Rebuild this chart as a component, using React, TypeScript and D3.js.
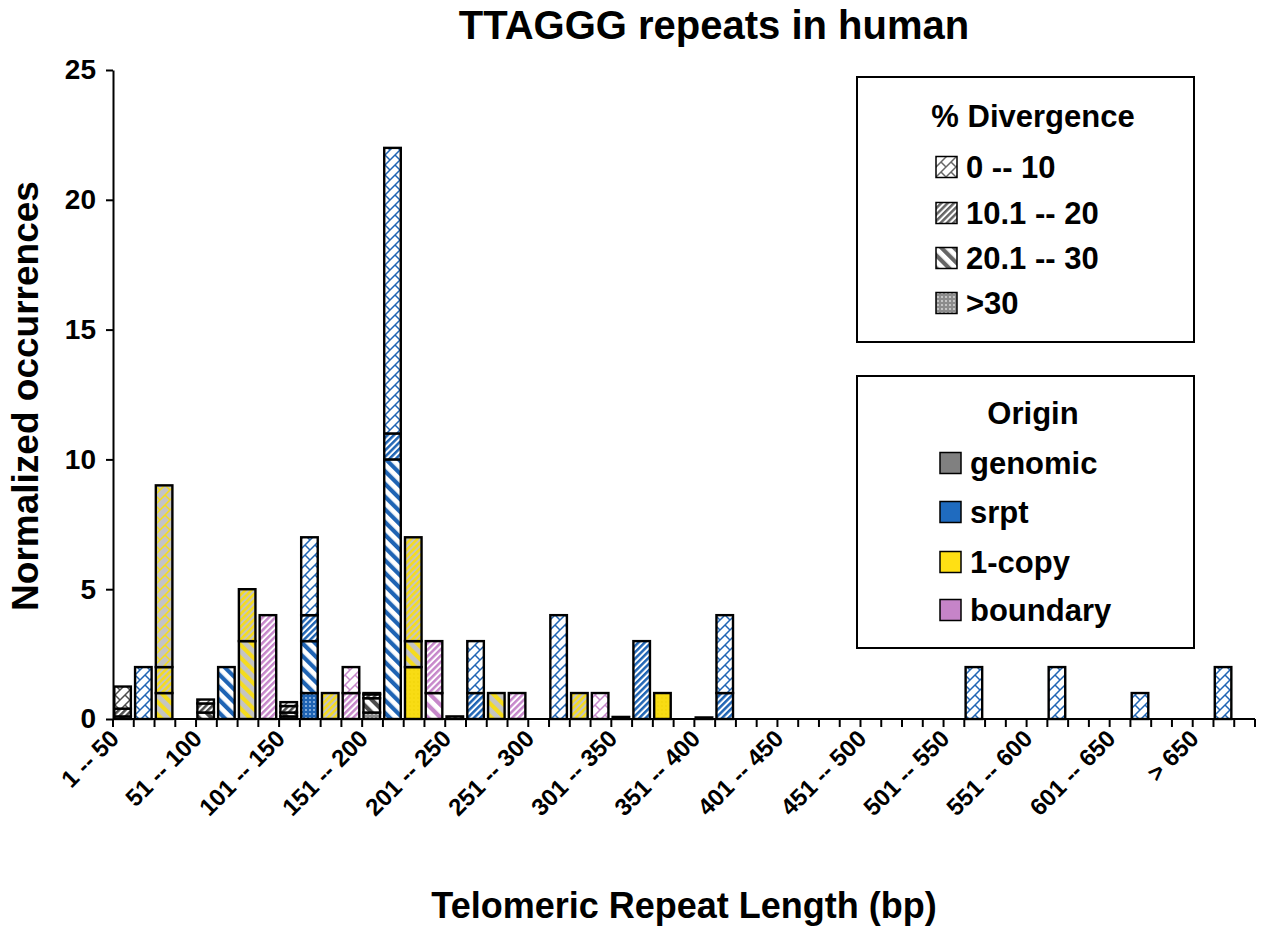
import { useEffect, useRef } from 'react'
import { axisLeft, scaleBand, scaleLinear, select, stack } from 'd3'

const BINS = [
  '1 -- 50', '51 -- 100', '101 -- 150', '151 -- 200', '201 -- 250', '251 -- 300', '301 -- 350',
  '351 -- 400', '401 -- 450', '451 -- 500', '501 -- 550', '551 -- 600', '601 -- 650', '> 650',
]
const ORIGINS = ['genomic', 'srpt', '1-copy', 'boundary']
const DIVERGENCE = ['0 -- 10', '10.1 -- 20', '20.1 -- 30', '>30']
const Y_TICKS = [0, 5, 10, 15, 20, 25]

// normalized occurrences, one row per length bin, columns follow DIVERGENCE
const genomic = [
  [0.85, 0.3, 0.1, 0],
  [0.15, 0.35, 0.25, 0],
  [0.15, 0.25, 0.15, 0.1],
  [0.05, 0.15, 0.55, 0.25],
  [0, 0.1, 0, 0],
  [0, 0, 0, 0],
  [0, 0.08, 0, 0],
  [0, 0.06, 0, 0],
  [0, 0, 0, 0],
  [0, 0, 0, 0],
  [0, 0, 0, 0],
  [0, 0, 0, 0],
  [0, 0, 0, 0],
  [0, 0, 0, 0],
]
const srpt = [
  [2, 0, 0, 0],
  [0, 0, 2, 0],
  [3, 1, 2, 1],
  [11, 1, 10, 0],
  [2, 1, 0, 0],
  [4, 0, 0, 0],
  [0, 3, 0, 0],
  [3, 1, 0, 0],
  [0, 0, 0, 0],
  [0, 0, 0, 0],
  [2, 0, 0, 0],
  [2, 0, 0, 0],
  [1, 0, 0, 0],
  [2, 0, 0, 0],
]
const oneCopy = [
  [7, 1, 1, 0],
  [0, 2, 3, 0],
  [0, 1, 0, 0],
  [0, 4, 1, 2],
  [0, 0, 1, 0],
  [0, 1, 0, 0],
  [0, 0, 0, 1],
  [0, 0, 0, 0],
  [0, 0, 0, 0],
  [0, 0, 0, 0],
  [0, 0, 0, 0],
  [0, 0, 0, 0],
  [0, 0, 0, 0],
  [0, 0, 0, 0],
]
const boundary = [
  [0, 0, 0, 0],
  [0, 4, 0, 0],
  [1, 1, 0, 0],
  [0, 2, 1, 0],
  [0, 1, 0, 0],
  [1, 0, 0, 0],
  [0, 0, 0, 0],
  [0, 0, 0, 0],
  [0, 0, 0, 0],
  [0, 0, 0, 0],
  [0, 0, 0, 0],
  [0, 0, 0, 0],
  [0, 0, 0, 0],
  [0, 0, 0, 0],
]
const TABLES = [genomic, srpt, oneCopy, boundary]

// colours per origin; index 4 is the neutral set used by the divergence legend
const SOLID = ['#808080', '#1f6bbf', '#ffe014', '#c684c8']
const LINE = ['#4d4d4d', '#1f64b4', '#f5dc1e', '#c687ca', '#666666']
const BACK = ['#ffffff', '#ffffff', '#c4c4c4', '#ffffff', '#ffffff']
const DOT_BACK = ['#8c8c8c', '#1f64b4', '#f8dc14', '#c687ca', '#8c8c8c']
const DOT = ['#d8d8d8', '#a9c9ee', '#f2d60a', '#ecd2ee', '#e0e0e0']

const FONT = "'Liberation Sans', Arial, sans-serif"

type Sel = ReturnType<typeof select<SVGDefsElement, unknown>>

function addPattern(defs: Sel, id: string, kind: number, c: number) {
  const p = defs.append('pattern').attr('id', id).attr('patternUnits', 'userSpaceOnUse')
  if (kind === 0) {
    // diagonal brick
    p.attr('width', 10).attr('height', 10)
    p.append('rect').attr('width', 10).attr('height', 10).attr('fill', BACK[c])
    p.append('path')
      .attr('d', 'M0,10 L10,0 M-1,1 L1,-1 M9,11 L11,9 M5,5 L10,10')
      .attr('stroke', LINE[c])
      .attr('stroke-width', 1.5)
      .attr('fill', 'none')
  } else if (kind === 1) {
    // light upward diagonal
    p.attr('width', 4.5).attr('height', 4.5).attr('patternTransform', 'rotate(45)')
    p.append('rect').attr('width', 4.5).attr('height', 4.5).attr('fill', BACK[c])
    p.append('rect').attr('width', 2.5).attr('height', 4.5).attr('fill', LINE[c])
  } else if (kind === 2) {
    // wide downward diagonal
    p.attr('width', 9).attr('height', 9).attr('patternTransform', 'rotate(-45)')
    p.append('rect').attr('width', 9).attr('height', 9).attr('fill', BACK[c])
    p.append('rect').attr('width', 4.2).attr('height', 9).attr('fill', LINE[c])
  } else {
    // dotted
    p.attr('width', 4).attr('height', 4)
    p.append('rect').attr('width', 4).attr('height', 4).attr('fill', DOT_BACK[c])
    p.append('circle').attr('cx', 2).attr('cy', 2).attr('r', 0.9).attr('fill', DOT[c])
  }
}

export default function App() {
  const ref = useRef<SVGSVGElement>(null)

  useEffect(() => {
    if (!ref.current) return
    const svg = select(ref.current)
    svg.selectAll('*').remove()

    const left = 113
    const right = 1255
    const top = 70
    const bottom = 719

    const defs = svg.append('defs') as unknown as Sel
    for (let c = 0; c < 5; c++) {
      for (let k = 0; k < 4; k++) addPattern(defs, `p-${c}-${k}`, k, c)
    }

    // one column per origin inside each length bin; the last bin has no boundary column
    const slots = BINS.flatMap((_, bi) => ORIGINS.map((_, oi) => ({ key: `${bi}-${oi}`, bi, oi }))).filter(
      (s) => !(s.bi === BINS.length - 1 && s.oi === ORIGINS.length - 1),
    )

    const x = scaleBand()
      .domain(slots.map((s) => s.key))
      .range([left, right])
      .padding(0)
    const bw = x.bandwidth()
    const y = scaleLinear().domain([0, 25]).range([bottom, top])

    const rows = slots.map((s) => {
      const r: Record<string, number | string> = { key: s.key, oi: s.oi }
      DIVERGENCE.forEach((d, i) => (r[d] = TABLES[s.oi][s.bi][i]))
      return r
    })

    // stacked from the most divergent class at the bottom
    const series = stack<Record<string, number | string>>()
      .keys([...DIVERGENCE].reverse())
      .value((d, k) => d[k] as number)(rows)

    const bars = svg.append('g')
    series.forEach((layer) => {
      const di = DIVERGENCE.indexOf(layer.key)
      bars
        .append('g')
        .selectAll('rect')
        .data(layer.filter((d) => d[1] - d[0] > 0))
        .join('rect')
        .attr('x', (d) => (x(d.data.key as string) ?? 0) + 1.3)
        .attr('y', (d) => y(d[1]))
        .attr('width', bw - 4.2)
        .attr('height', (d) => y(d[0]) - y(d[1]))
        .attr('fill', (d) => `url(#p-${d.data.oi}-${di})`)
        .attr('stroke', '#000')
        .attr('stroke-width', 2.4)
    })

    // y axis
    const yAxis = svg
      .append('g')
      .attr('transform', `translate(${left},0)`)
      .call(axisLeft(y).tickValues(Y_TICKS).tickSize(7).tickSizeOuter(0).tickPadding(10))
    yAxis.select('.domain').attr('stroke', '#000').attr('stroke-width', 2)
    yAxis.selectAll('.tick line').attr('stroke', '#000').attr('stroke-width', 2)
    yAxis
      .selectAll('.tick text')
      .attr('font-family', FONT)
      .attr('font-weight', 'bold')
      .attr('font-size', 28)
      .attr('fill', '#000')

    // x axis with a tick at every column boundary
    const xAxis = svg.append('g')
    xAxis
      .append('line')
      .attr('x1', left)
      .attr('x2', right)
      .attr('y1', bottom)
      .attr('y2', bottom)
      .attr('stroke', '#000')
      .attr('stroke-width', 2)
    const edges = [...slots.map((s) => x(s.key) ?? 0), right]
    xAxis
      .selectAll('line.tick')
      .data(edges)
      .join('line')
      .attr('class', 'tick')
      .attr('x1', (d) => d)
      .attr('x2', (d) => d)
      .attr('y1', bottom)
      .attr('y2', bottom + 8)
      .attr('stroke', '#000')
      .attr('stroke-width', 2)
    xAxis
      .selectAll('text')
      .data(BINS)
      .join('text')
      .attr('transform', (_, bi) => `translate(${(x(`${bi}-0`) ?? 0) + bw / 2 - 3},${bottom + 21}) rotate(-45)`)
      .attr('text-anchor', 'end')
      .attr('font-family', FONT)
      .attr('font-weight', 'bold')
      .attr('font-size', 24)
      .text((d) => d)

    const label = (t: string, size: number) =>
      svg
        .append('text')
        .attr('font-family', FONT)
        .attr('font-weight', 'bold')
        .attr('font-size', size)
        .attr('text-anchor', 'middle')
        .text(t)

    label('TTAGGG repeats in human', 40).attr('x', 714).attr('y', 39)
    label('Telomeric Repeat Length (bp)', 36).attr('x', 684).attr('y', 918)
    label('Normalized occurrences', 37).attr('transform', 'translate(38,396) rotate(-90)')

    // legends
    const legend = (y0: number, h: number, title: string, titleY: number, itemX: number, ys: number[], names: string[], fill: (i: number) => string) => {
      const g = svg.append('g')
      g.append('rect')
        .attr('x', 857)
        .attr('y', y0)
        .attr('width', 337)
        .attr('height', h)
        .attr('fill', '#fff')
        .attr('stroke', '#000')
        .attr('stroke-width', 2)
      g.append('text')
        .attr('x', 1033)
        .attr('y', titleY)
        .attr('text-anchor', 'middle')
        .attr('font-family', FONT)
        .attr('font-weight', 'bold')
        .attr('font-size', 31)
        .text(title)
      const items = g
        .selectAll('g.item')
        .data(names)
        .join('g')
        .attr('transform', (_, i) => `translate(${itemX},${ys[i]})`)
      items
        .append('rect')
        .attr('x', 0)
        .attr('y', -10.5)
        .attr('width', 21)
        .attr('height', 21)
        .attr('fill', (_, i) => fill(i))
        .attr('stroke', '#000')
        .attr('stroke-width', 1.5)
      items
        .append('text')
        .attr('x', 30)
        .attr('dy', '0.36em')
        .attr('font-family', FONT)
        .attr('font-weight', 'bold')
        .attr('font-size', 31)
        .text((d) => d)
    }

    legend(77, 265, '% Divergence', 127, 936, [167, 213, 258, 303], DIVERGENCE, (i) => `url(#p-4-${i})`)
    legend(376, 272, 'Origin', 424, 940, [463, 512, 562, 610], ORIGINS, (i) => SOLID[i])
  }, [])

  return (
    <svg
      ref={ref}
      width={1280}
      height={927}
      style={{ position: 'absolute', left: 0, top: 0, background: '#fff' }}
    />
  )
}
